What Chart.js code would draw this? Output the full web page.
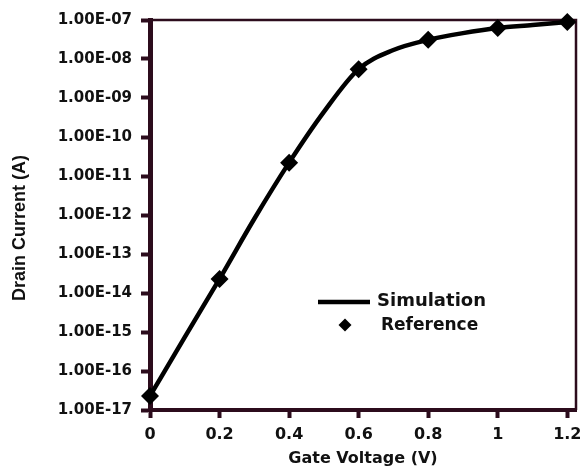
<!DOCTYPE html>
<html>
<head>
<meta charset="utf-8">
<script src="https://cdn.jsdelivr.net/npm/chart.js@4.4.0/dist/chart.umd.min.js"></script>
<style>
  html, body { margin: 0; padding: 0; background: #fff; }
  #wrap { width: 585px; height: 468px; }
</style>
</head>
<body>
<div id="wrap"><canvas id="ivChart" width="585" height="468"></canvas></div>
<script>
// Datos
const refVoltage = [0, 0.2, 0.4, 0.6, 0.8, 1.0, 1.2];
const refCurrent = [2.3e-17, 2.3e-14, 2.2e-11, 5.5e-9, 3.1e-8, 6.2e-8, 8.9e-8];

const simVoltage = [0, 0.1, 0.2, 0.3, 0.4, 0.5, 0.6, 0.7, 0.8, 0.9, 1.0, 1.1, 1.2];
const simCurrent = [2.3e-17, 7.4e-16, 2.3e-14, 8.0e-13, 2.2e-11, 4.4e-10, 5.5e-9, 1.7e-8, 3.1e-8, 4.6e-8, 6.2e-8, 7.4e-8, 8.9e-8];

const xTickValues = [0, 0.2, 0.4, 0.6, 0.8, 1.0, 1.2];
const xTickLabels = ['0', '0.2', '0.4', '0.6', '0.8', '1', '1.2'];
const yTickExponents = [-17, -16, -15, -14, -13, -12, -11, -10, -9, -8, -7];

const seriesNames = ['Simulation', 'Reference'];
const xTitle = 'Gate Voltage (V)';
const yTitle = 'Drain Current (A)';

const axisColor = '#2c0c1c';
const textColor = '#111';

function formatExp(v) {
    const e = Math.round(Math.log10(v));
    const abs = Math.abs(e);
    return '1.00E' + (e < 0 ? '-' : '+') + (abs < 10 ? '0' + abs : abs);
}

// borde superior y derecho + leyenda + titulo del eje Y
const extras = {
    id: 'extras',
    beforeDatasetsDraw(chart) {
        const { ctx, chartArea: a } = chart;
        ctx.save();
        ctx.strokeStyle = axisColor;
        ctx.lineWidth = 2.5;
        ctx.beginPath();
        ctx.moveTo(a.left, a.top);
        ctx.lineTo(a.right, a.top);
        ctx.lineTo(a.right, a.bottom);
        ctx.stroke();
        ctx.restore();
    },
    afterDraw(chart) {
        const { ctx, chartArea: a } = chart;
        ctx.save();
        // leyenda
        ctx.strokeStyle = '#000';
        ctx.lineWidth = 4.5;
        ctx.beginPath();
        ctx.moveTo(a.left + 168, a.top + 282);
        ctx.lineTo(a.left + 220, a.top + 282);
        ctx.stroke();

        const dx = a.left + 195, dy = a.top + 305, r = 6.5;
        ctx.fillStyle = '#000';
        ctx.beginPath();
        ctx.moveTo(dx - r, dy);
        ctx.lineTo(dx, dy - r);
        ctx.lineTo(dx + r, dy);
        ctx.lineTo(dx, dy + r);
        ctx.closePath();
        ctx.fill();

        ctx.fillStyle = textColor;
        ctx.textBaseline = 'middle';
        ctx.textAlign = 'left';
        ctx.font = 'bold 18px "DejaVu Sans"';
        ctx.fillText(seriesNames[0], a.left + 227, a.top + 281);
        ctx.font = 'bold 17px "DejaVu Sans"';
        ctx.fillText(seriesNames[1], a.left + 231, a.top + 306);

        // titulo eje Y
        ctx.translate(20, 228);
        ctx.rotate(-Math.PI / 2);
        ctx.textAlign = 'center';
        ctx.font = 'bold 18px "Liberation Sans"';
        ctx.fillText(yTitle, 0, 0);
        ctx.restore();
    }
};

const ctx = document.getElementById('ivChart').getContext('2d');
new Chart(ctx, {
    type: 'line',
    data: {
        datasets: [{
            label: seriesNames[0],
            data: simVoltage.map((v, i) => ({ x: v, y: simCurrent[i] })),
            borderColor: '#000',
            borderWidth: 4.5,
            pointRadius: 0,
            cubicInterpolationMode: 'monotone',
            fill: false,
            clip: false,
            order: 2
        }, {
            label: seriesNames[1],
            data: refVoltage.map((v, i) => ({ x: v, y: refCurrent[i] })),
            showLine: false,
            pointStyle: 'rectRot',
            pointRadius: 9,
            pointBackgroundColor: '#000',
            pointBorderColor: '#000',
            pointBorderWidth: 0,
            clip: false,
            order: 1
        }]
    },
    options: {
        responsive: false,
        animation: false,
        devicePixelRatio: 1,
        layout: { padding: { top: 20, right: 3, left: 0, bottom: 0 } },
        plugins: {
            legend: { display: false },
            tooltip: { enabled: false }
        },
        scales: {
            x: {
                type: 'linear',
                min: 0,
                max: 1.225,
                afterBuildTicks: s => { s.ticks = xTickValues.map(v => ({ value: v })); },
                afterFit: s => { s.height = 58; s.paddingRight = 0; s.paddingLeft = 0; },
                border: { color: axisColor, width: 4 },
                grid: { drawOnChartArea: false, drawTicks: true, tickLength: 8, tickWidth: 4, tickColor: axisColor },
                ticks: {
                    color: textColor,
                    padding: 7,
                    maxRotation: 0,
                    font: { family: 'DejaVu Sans', size: 16, weight: 'bold' },
                    callback: (v) => {
                        const i = xTickValues.findIndex(t => Math.abs(t - v) < 1e-9);
                        return i >= 0 ? xTickLabels[i] : '';
                    }
                },
                title: {
                    display: true,
                    text: xTitle,
                    color: textColor,
                    padding: { top: 0, bottom: 0 },
                    font: { family: 'DejaVu Sans', size: 16, weight: 'bold' }
                }
            },
            y: {
                type: 'logarithmic',
                min: 1e-17,
                max: 1e-7,
                afterBuildTicks: s => { s.ticks = yTickExponents.map(e => ({ value: Math.pow(10, e) })); },
                afterFit: s => { s.width = 150; },
                border: { color: axisColor, width: 5 },
                grid: { drawOnChartArea: false, drawTicks: true, tickLength: 9, tickWidth: 4, tickColor: axisColor },
                ticks: {
                    color: textColor,
                    padding: 9,
                    autoSkip: false,
                    font: { family: 'DejaVu Sans', size: 15, weight: 'bold' },
                    callback: v => formatExp(v)
                }
            }
        }
    },
    plugins: [extras]
});
</script>
</body>
</html>
